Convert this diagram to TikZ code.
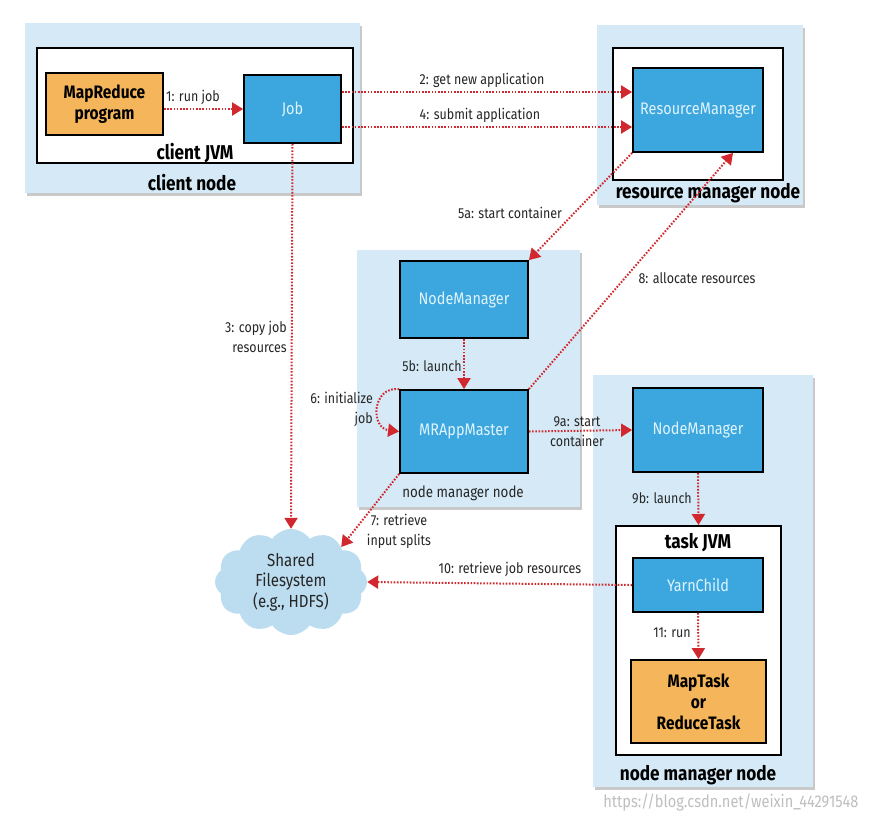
\documentclass[tikz,border=0pt]{standalone}
\usepackage{fontspec}
\setmainfont{Fira Sans}[FakeStretch=0.86]
\usetikzlibrary{shapes.symbols,shadows,arrows.meta}
\definecolor{nodebg}{HTML}{D5EAF6}
\definecolor{boxblue}{HTML}{3CA6DF}
\definecolor{boxorange}{HTML}{F5B55B}
\definecolor{arrred}{HTML}{D0282E}
\definecolor{cloudc}{HTML}{BCDCF0}
\definecolor{bluetext}{HTML}{DFF4FC}
\begin{document}
\begin{tikzpicture}[x=1pt,y=-1pt,
  hostbox/.style={draw=none, fill=nodebg, drop shadow={shadow xshift=2pt,shadow yshift=-2.5pt,opacity=0.35,fill=black!60}, inner sep=0pt},
  jvmbox/.style={draw=black, line width=2pt, fill=white, inner sep=0pt},
  procbox/.style={draw=black, line width=1.8pt, fill=boxblue, text=bluetext, font=\fontsize{16.8}{20}\selectfont, inner sep=0pt},
  userbox/.style={draw=black, line width=1.8pt, fill=boxorange, font=\bfseries\fontsize{18}{21}\selectfont, align=center, inner sep=0pt},
  lbl/.style={font=\fontsize{14.5}{20}\selectfont, inner sep=0pt, text=black!85},
  hostlbl/.style={font=\bfseries\fontsize{20}{22}\selectfont, inner sep=0pt},
  arr/.style={draw=arrred, line width=2pt, dash pattern=on 1.6pt off 1.6pt, -{Triangle[length=11pt,width=13pt]}},
]
\useasboundingbox (0,0) rectangle (870,820);
\fill[white] (0,0) rectangle (870,820);

% client node
\node[hostbox, minimum width=335pt, minimum height=170pt] (clientnode) at (192.5,108) {};
\node[jvmbox, minimum width=316pt, minimum height=115pt] (clientjvm) at (195,105.5) {};
\node[userbox, minimum width=117pt, minimum height=62pt] (mrprog) at (104.5,104) {MapReduce\\program};
\node[procbox, minimum width=97pt, minimum height=68pt] (job) at (292.5,109) {Job};
\node[hostlbl] (clientjvmlbl) at (195,153) {client JVM};
\node[hostlbl] (clientnodelbl) at (192,183) {client node};

% resource manager node
\node[hostbox, minimum width=206pt, minimum height=180pt] (rmnode) at (700,115) {};
\node[jvmbox, minimum width=170pt, minimum height=132pt] (rmjvm) at (698,114) {};
\node[procbox, minimum width=130pt, minimum height=84pt] (rm) at (698,110) {ResourceManager};
\node[hostlbl] (rmnodelbl) at (708,193) {resource manager node};

% middle node manager node
\node[hostbox, minimum width=223pt, minimum height=257pt] (nmnodeA) at (468.5,378.5) {};
\node[procbox, minimum width=128pt, minimum height=77pt] (nmA) at (464,299.5) {NodeManager};
\node[procbox, minimum width=128pt, minimum height=83pt] (mram) at (464,431.5) {MRAppMaster};
\node[lbl, font=\fontsize{15.5}{18}\selectfont] (nmnodeAlbl) at (463,493) {node manager node};

% right node manager node
\node[hostbox, minimum width=220pt, minimum height=412pt] (nmnodeB) at (703,581) {};
\node[procbox, minimum width=130pt, minimum height=84pt] (nmB) at (698,430) {NodeManager};
\node[jvmbox, minimum width=165pt, minimum height=229pt] (taskjvm) at (698.5,640.5) {};
\node[hostlbl] (taskjvmlbl) at (698,543) {task JVM};
\node[procbox, minimum width=130pt, minimum height=54pt] (yarn) at (698,585) {YarnChild};
\node[userbox, minimum width=135pt, minimum height=83pt] (maptask) at (698.5,701.5) {MapTask\\or\\ReduceTask};
\node[hostlbl] (nmnodeBlbl) at (698,775) {node manager node};

% shared filesystem
\node[cloud, cloud puffs=12, cloud puff arc=110, aspect=1.45, fill=cloudc, draw=none,
      minimum width=152pt, minimum height=106pt, align=center, inner sep=0pt,
      font=\fontsize{17.5}{20.5}\selectfont, text=black!85] (fs) at (291,582) {Shared\\Filesystem\\(e.g., HDFS)};

% connectors
\draw[arr] (mrprog.east |- job.west) -- (job.west);
\draw[arr] ([yshift=17pt]job.east) -- ([yshift=18pt]rm.west);
\draw[arr] ([yshift=-18pt]job.east) -- ([yshift=-17pt]rm.west);
\draw[arr] (job.south) -- (fs.north);
\draw[arr] (rm.south west) -- (nmA.north east);
\draw[arr] (nmA.south) -- (mram.north);
\draw[arr] (mram.north west) .. controls (372,386) and (370,428) .. (mram.west);
\draw[arr] (mram.south west) -- (fs.north east);
\draw[arr] (mram.north east) -- ([xshift=35pt]rm.south);
\draw[arr] (mram.east) -- (nmB.west);
\draw[arr] (nmB.south) -- (taskjvm.north);
\draw[arr] (yarn.west) -- (fs.east);
\draw[arr] (yarn.south) -- (maptask.north);

% connector labels
\node[lbl] (l1) at (193,97) {1: run job};
\node[lbl] (l2) at (482,80) {2: get new application};
\node[lbl] (l4) at (480,115) {4: submit application};
\node[lbl, align=right, anchor=east] (l3) at (287,337) {3: copy job\\resources};
\node[lbl] (l5a) at (510,213) {5a: start container};
\node[lbl] (l8) at (697,278) {8: allocate resources};
\node[lbl] (l5b) at (432,366) {5b: launch};
\node[lbl, align=right, anchor=east] (l6) at (373,409) {6: initialize\\job};
\node[lbl, align=center] (l9a) at (577,432) {9a: start\\container};
\node[lbl, align=center] (l7) at (399,531) {7: retrieve\\input splits};
\node[lbl] (l10) at (510,569) {10: retrieve job resources};
\node[lbl] (l9b) at (662,498) {9b: launch};
\node[lbl] (l11) at (672,633) {11: run};

\node[font=\fontsize{17}{19}\selectfont, text=black!25, anchor=east] (wm) at (862,802) {https://blog.csdn.net/weixin\_44291548};
\end{tikzpicture}
\end{document}
